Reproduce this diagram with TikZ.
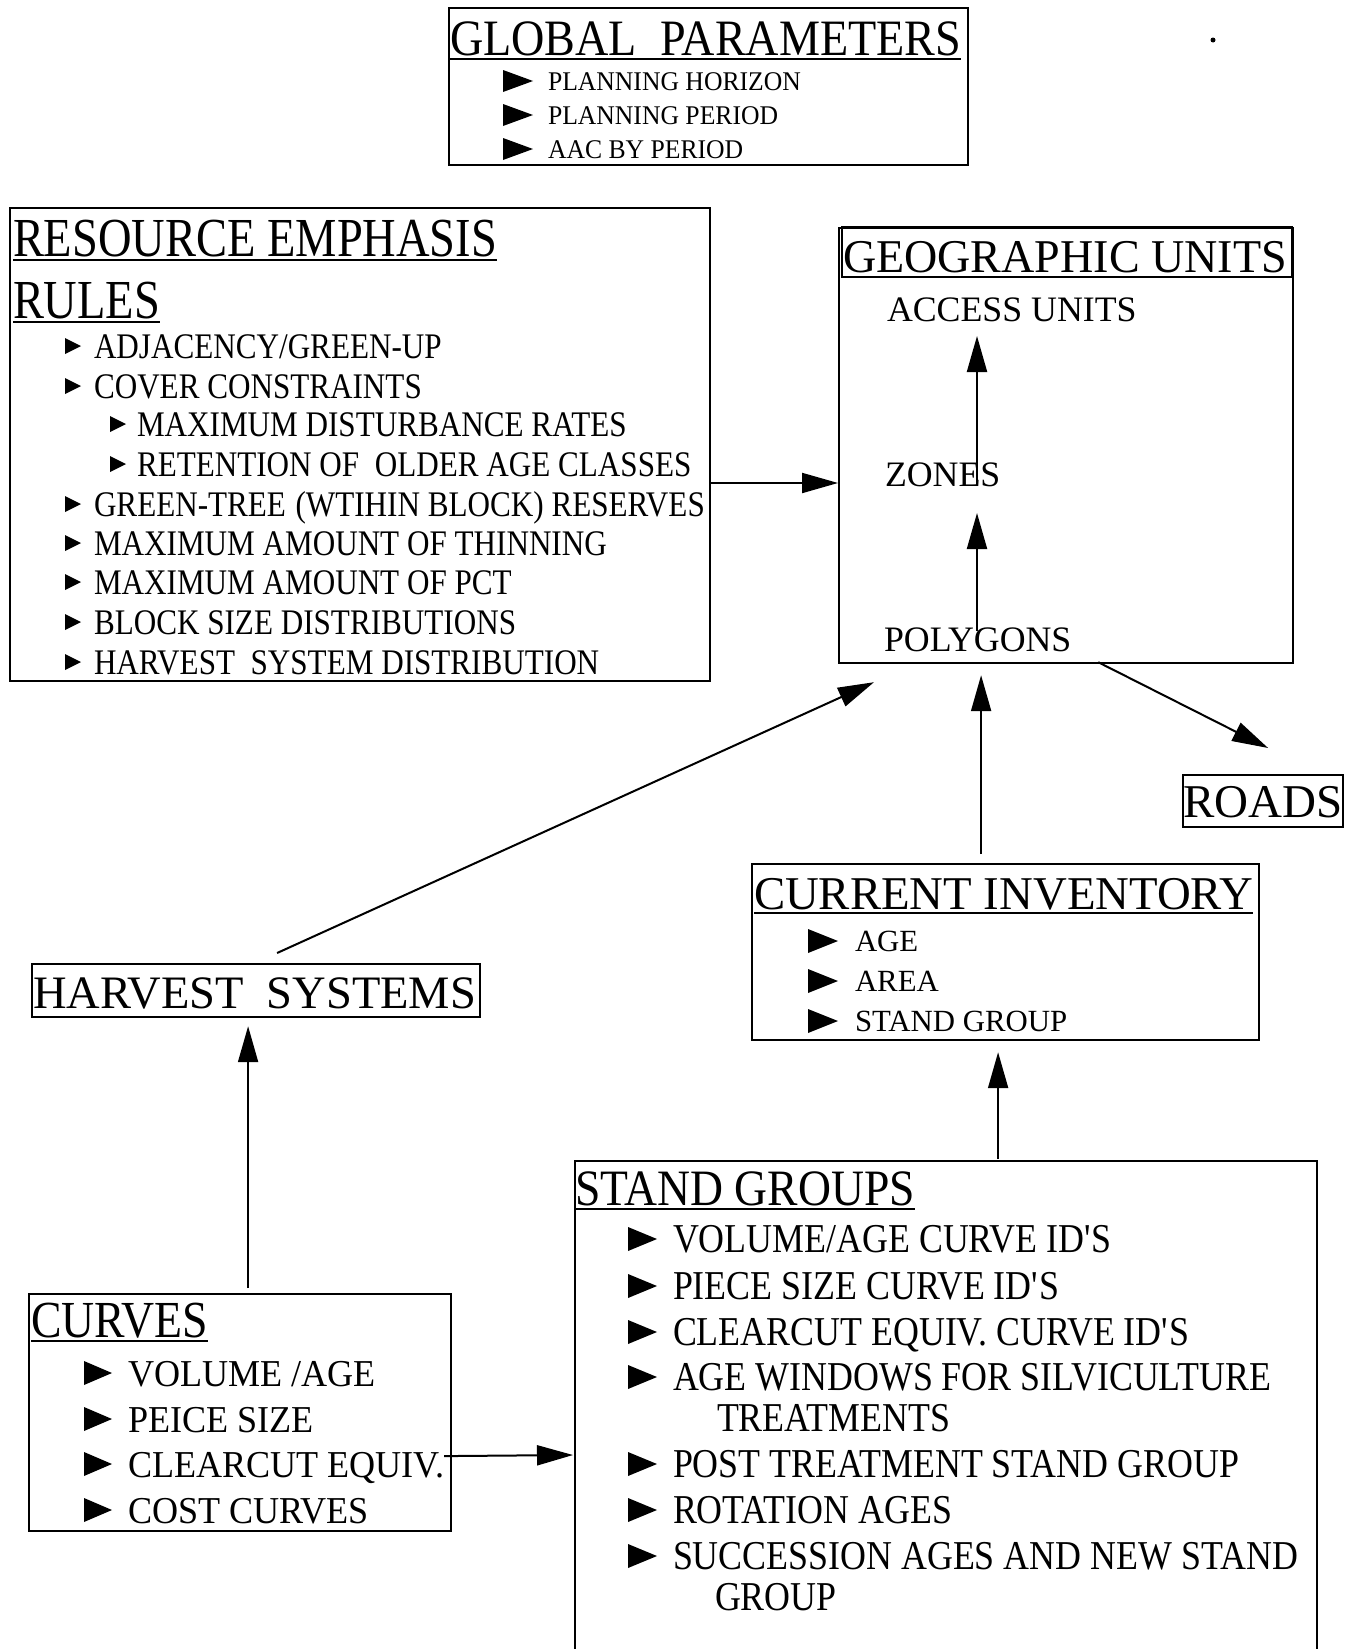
\documentclass[tikz,border=0pt]{standalone}
\usepackage{fontspec}
\setmainfont{Liberation Serif}
\newfontfamily\fsA[FakeStretch=0.845]{Liberation Serif}
\newfontfamily\fsB[FakeStretch=0.865]{Liberation Serif}
\newfontfamily\fsC[FakeStretch=0.875]{Liberation Serif}
\newfontfamily\fsD[FakeStretch=0.905]{Liberation Serif}
\newfontfamily\fsE[FakeStretch=0.95]{Liberation Serif}
\newfontfamily\fsF[FakeStretch=0.995]{Liberation Serif}
\newfontfamily\fsG[FakeStretch=0.88]{Liberation Serif}
\newfontfamily\fsH[FakeStretch=0.895]{Liberation Serif}
\newfontfamily\fsI[FakeStretch=0.98]{Liberation Serif}
\usetikzlibrary{arrows.meta,calc}
\newcommand\bul[4]{\fill (#1,#2-#4/2) -- (#1+#3,#2) -- (#1,#2+#4/2) -- cycle;}
\tikzset{
  box/.style={draw, line width=2.2pt, inner sep=0pt, anchor=north west},
  txt/.style={anchor=base west, inner sep=0pt, outer sep=0pt},
  arr/.style={line width=2pt, -{Triangle[length=36pt,width=20pt]}},
  uline/.style={line width=2pt},
  gtitle/.style={txt, font=\fsD\fontsize{51}{51}\selectfont},
  gitem/.style={txt, font=\fsE\fontsize{27}{27}\selectfont},
  rtitle/.style={txt, font=\fsA\fontsize{55}{55}\selectfont},
  ritem/.style={txt, font=\fsB\fontsize{36}{36}\selectfont},
  geotitle/.style={txt, font=\fsI\fontsize{47}{47}\selectfont},
  roadstitle/.style={txt, font=\fontsize{47}{47}\selectfont},
  geoitem/.style={txt, font=\fontsize{35.8}{35.8}\selectfont},
  itemtitle/.style={txt, font=\fsF\fontsize{47}{47}\selectfont},
  iitem/.style={txt, font=\fontsize{30.8}{30.8}\selectfont},
  htitle/.style={txt, font=\fontsize{46.5}{46.5}\selectfont},
  ctitle/.style={txt, font=\fsG\fontsize{52}{52}\selectfont},
  citem/.style={txt, font=\fsE\fontsize{38}{38}\selectfont},
  stitle/.style={txt, font=\fsH\fontsize{51}{51}\selectfont},
  sitem/.style={txt, font=\fsC\fontsize{41}{41}\selectfont},
}
\begin{document}
\begin{tikzpicture}[x=1pt,y=-1pt]
\useasboundingbox (0,0) rectangle (1355,1649);
\fill[white] (0,0) rectangle (1355,1649);

% ---------- boxes ----------
\node[box, minimum width=519pt, minimum height=157pt] (glob) at (448,7) {};
\node[box, minimum width=700pt, minimum height=473pt] (res) at (9,207) {};
\node[box, minimum width=454pt, minimum height=435pt] (geo) at (838,227) {};
\node[box, minimum width=160pt, minimum height=52pt] (roads) at (1182,774) {};
\node[box, minimum width=507pt, minimum height=176pt] (inv) at (751,863) {};
\node[box, minimum width=448pt, minimum height=53pt] (harv) at (31,963) {};
\node[box, minimum width=422pt, minimum height=237pt] (curv) at (28,1293) {};
\node[box, minimum width=742pt, minimum height=520pt] (stand) at (574,1160) {};

% ---------- global parameters ----------
\node[gtitle] (gt) at (450,55) {GLOBAL~~PARAMETERS};
\draw[uline] ([yshift=-4pt]gt.base west) -- ([yshift=-4pt]gt.base east);
\bul{503}{81}{30}{22} \node[gitem] (g1) at (548,90) {PLANNING HORIZON};
\bul{503}{115}{30}{22} \node[gitem] (g2) at (548,124) {PLANNING PERIOD};
\bul{503}{149}{30}{22} \node[gitem] (g3) at (548,158) {AAC BY PERIOD};

% ---------- resource emphasis rules ----------
\node[rtitle] (rt1) at (13,256) {RESOURCE EMPHASIS};
\draw[uline] ([yshift=-4pt]rt1.base west) -- ([yshift=-4pt]rt1.base east);
\node[rtitle] (rt2) at (13,318) {RULES};
\draw[uline] ([yshift=-4pt]rt2.base west) -- ([yshift=-4pt]rt2.base east);
\bul{65}{346}{16}{16} \node[ritem] (r1) at (94,358) {ADJACENCY/GREEN-UP};
\bul{65}{386}{16}{16} \node[ritem] (r2) at (94,398) {COVER CONSTRAINTS};
\bul{110}{424}{16}{16} \node[ritem] (r3) at (137,436) {MAXIMUM DISTURBANCE RATES};
\bul{110}{464}{16}{16} \node[ritem] (r4) at (137,476) {RETENTION OF~~OLDER AGE CLASSES};
\bul{65}{504}{16}{16} \node[ritem] (r5) at (94,516) {GREEN-TREE\ \kern0.05em(WTIHIN BLOCK) RESERVES};
\bul{65}{543}{16}{16} \node[ritem] (r6) at (94,555) {MAXIMUM AMOUNT OF THINNING};
\bul{65}{582}{16}{16} \node[ritem] (r7) at (94,594) {MAXIMUM AMOUNT OF PCT};
\bul{65}{622}{16}{16} \node[ritem] (r8) at (94,634) {BLOCK SIZE DISTRIBUTIONS};
\bul{65}{662}{16}{16} \node[ritem] (r9) at (94,674) {HARVEST~~SYSTEM DISTRIBUTION};

% ---------- geographic units ----------
\node[geotitle] (geot) at (843,272) {GEOGRAPHIC UNITS};
\draw[line width=2.2pt] (842,227) rectangle (1292,277);
\node[geoitem] (access) at (887,321) {ACCESS UNITS};
\node[geoitem] (zones) at (885,486) {ZONES};
\node[geoitem] (poly) at (884,651) {POLYGONS};
\coordinate (gx) at (977,0);
\draw[arr] (zones.base -| gx) -- ($(access.base -| gx)+(0,15)$);
\draw[arr] ($(poly.base -| gx)+(0,-20)$) -- ($(zones.base -| gx)+(0,27)$);

% ---------- roads ----------
\node[roadstitle] (roadst) at (1183,817) {ROADS};

% ---------- current inventory ----------
\node[itemtitle] (invt) at (754,909) {CURRENT INVENTORY};
\draw[uline] ([yshift=-4pt]invt.base west) -- ([yshift=-4pt]invt.base east);
\bul{808}{941}{30}{24} \node[iitem] (i1) at (855,951) {AGE};
\bul{808}{981}{30}{24} \node[iitem] (i2) at (855,991) {AREA};
\bul{808}{1021}{30}{24} \node[iitem] (i3) at (855,1031) {STAND GROUP};

% ---------- harvest systems ----------
\node[htitle] (harvt) at (33,1008) {HARVEST~~SYSTEMS};

% ---------- curves ----------
\node[ctitle] (curvt) at (31,1337) {CURVES};
\draw[uline] ([yshift=-4pt]curvt.base west) -- ([yshift=-4pt]curvt.base east);
\bul{84}{1373}{28}{24} \node[citem] (c1) at (128,1386) {VOLUME /AGE};
\bul{84}{1419}{28}{24} \node[citem] (c2) at (128,1432) {PEICE SIZE};
\bul{84}{1464}{28}{24} \node[citem] (c3) at (128,1477) {CLEARCUT EQUIV.};
\bul{84}{1510}{28}{24} \node[citem] (c4) at (128,1523) {COST CURVES};

% ---------- stand groups ----------
\node[stitle] (standt) at (575,1205) {STAND GROUPS};
\draw[uline] ([yshift=-4pt]standt.base west) -- ([yshift=-4pt]standt.base east);
\bul{628}{1239}{29}{24} \node[sitem] (s1) at (673,1252) {VOLUME/AGE CURVE ID\textquotesingle S};
\bul{628}{1286}{29}{24} \node[sitem] (s2) at (673,1299) {PIECE SIZE CURVE ID\textquotesingle S};
\bul{628}{1332}{29}{24} \node[sitem] (s3) at (673,1345) {CLEARCUT EQUIV. CURVE ID\textquotesingle S};
\bul{628}{1377}{29}{24} \node[sitem] (s4) at (673,1390) {AGE WINDOWS FOR SILVICULTURE};
\node[sitem] (s4b) at (717,1431) {TREATMENTS};
\bul{628}{1464}{29}{24} \node[sitem] (s5) at (673,1477) {POST TREATMENT STAND GROUP};
\bul{628}{1510}{29}{24} \node[sitem] (s6) at (673,1523) {ROTATION AGES};
\bul{628}{1556}{29}{24} \node[sitem] (s7) at (673,1569) {SUCCESSION AGES AND NEW STAND};
\node[sitem] (s7b) at (715,1610) {GROUP};

% ---------- connectors ----------
\draw[arr] (res.east |- 0,483) -- (geo.west |- 0,483);
\draw[arr] ($(geo.south east)+(-196,-2)$) -- ($(roads.north)+(5,-26)$);
\draw[arr] ($(inv.north)+(-24.5,-9)$) -- ($(geo.south)+(-85,11)$);
\draw[arr] ($(harv.north)+(21,-10)$) -- ($(geo.south west)+(36,18)$);
\draw[arr] ($(curv.north)+(8,-5)$) -- ($(harv.south)+(-8,8)$);
\draw[arr] ($(curv.east)+(-8,43.5)$) -- ($(stand.north west)+(-1,295)$);
\draw[arr] ($(stand.north)+(52,-1)$) -- ($(inv.south)+(-7.5,11)$);

% speck
\fill (1213,40) circle (2.5);
\end{tikzpicture}
\end{document}
